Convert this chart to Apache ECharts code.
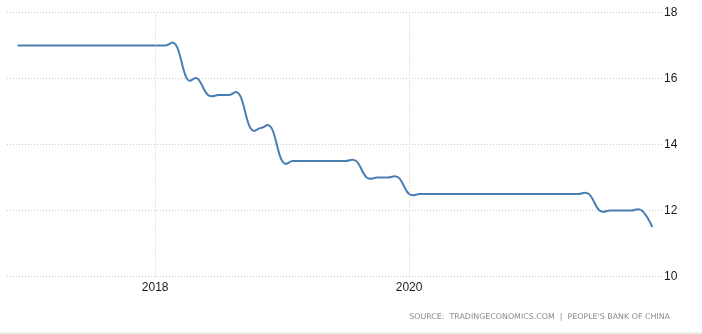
<!DOCTYPE html>
<html>
<head>
<meta charset="utf-8">
<script src="https://cdn.jsdelivr.net/npm/echarts@6/dist/echarts.min.js"></script>
<style>
  html, body { margin: 0; padding: 0; background: #fff; }
  #chart { width: 702px; height: 334px; }
</style>
</head>
<body>
<div id="chart"></div>
<script>
// China reserve requirement ratio (%), monthly, Dec 2016 - Dec 2021
const months = [
  '2016-12',
  '2017-01','2017-02','2017-03','2017-04','2017-05','2017-06',
  '2017-07','2017-08','2017-09','2017-10','2017-11','2017-12',
  '2018-01','2018-02','2018-03','2018-04','2018-05','2018-06',
  '2018-07','2018-08','2018-09','2018-10','2018-11','2018-12',
  '2019-01','2019-02','2019-03','2019-04','2019-05','2019-06',
  '2019-07','2019-08','2019-09','2019-10','2019-11','2019-12',
  '2020-01','2020-02','2020-03','2020-04','2020-05','2020-06',
  '2020-07','2020-08','2020-09','2020-10','2020-11','2020-12',
  '2021-01','2021-02','2021-03','2021-04','2021-05','2021-06',
  '2021-07','2021-08','2021-09','2021-10','2021-11','2021-12'
];
const rrr = [
  17,
  17, 17, 17, 17, 17, 17,
  17, 17, 17, 17, 17, 17,
  17, 17, 17, 16, 16, 15.5,
  15.5, 15.5, 15.5, 14.5, 14.5, 14.5,
  13.5, 13.5, 13.5, 13.5, 13.5, 13.5,
  13.5, 13.5, 13, 13, 13, 13,
  12.5, 12.5, 12.5, 12.5, 12.5, 12.5,
  12.5, 12.5, 12.5, 12.5, 12.5, 12.5,
  12.5, 12.5, 12.5, 12.5, 12.5, 12.5,
  12, 12, 12, 12, 12, 11.5
];
const yearTicks = ['2018', '2020'];
const yTicks = [10, 12, 14, 16, 18];

// month offset from January 2018
function monthOffset(ym) {
  const [y, m] = ym.split('-').map(Number);
  return (y - 2018) * 12 + (m - 1);
}
const yearOffsets = yearTicks.map(y => monthOffset(y + '-01'));
const points = months.map((m, i) => [monthOffset(m), rrr[i]]);

// Spline through the projected points (control points at 1.5:1 weighting,
// tangent kept parallel to the neighbour chord), built as one SVG path.
function splinePath(px) {
  const s = 1.5, d = 2.5;
  const ctrl = px.map((p, i) => {
    const prev = px[i - 1], next = px[i + 1];
    if (!prev || !next) return { l: p, r: p };
    let lx = (s * p[0] + prev[0]) / d, ly = (s * p[1] + prev[1]) / d;
    let rx = (s * p[0] + next[0]) / d, ry = (s * p[1] + next[1]) / d;
    if (rx !== lx) {
      const c = ((ry - ly) * (rx - p[0])) / (rx - lx) + p[1] - ry;
      ly += c; ry += c;
    }
    return { l: [lx, ly], r: [rx, ry] };
  });
  let path = 'M' + px[0][0] + ' ' + px[0][1];
  for (let i = 1; i < px.length; i++) {
    const a = ctrl[i - 1].r, b = ctrl[i].l, p = px[i];
    path += ' C' + a[0] + ' ' + a[1] + ' ' + b[0] + ' ' + b[1] + ' ' + p[0] + ' ' + p[1];
  }
  return path;
}

const chart = echarts.init(document.getElementById('chart'), null, { renderer: 'canvas' });
const gridColor = '#c9c9c9';
chart.setOption({
  animation: false,
  backgroundColor: '#ffffff',
  grid: { left: 7, right: 39, top: 12.5, bottom: 57.5, containLabel: false },
  xAxis: {
    type: 'value',
    min: monthOffset('2016-11'),
    max: monthOffset('2022-01'),
    axisLine: { show: false },
    axisTick: { show: false },
    splitLine: { show: false },
    axisLabel: {
      customValues: yearOffsets,
      formatter: v => String(2018 + Math.round(v / 12)),
      color: '#1a1a1a',
      fontSize: 12,
      fontFamily: 'Liberation Sans, Arial, sans-serif',
      margin: 5
    }
  },
  yAxis: {
    type: 'value',
    position: 'right',
    min: yTicks[0],
    max: yTicks[yTicks.length - 1],
    interval: 2,
    axisLine: { show: false },
    axisTick: { show: false },
    axisLabel: {
      color: '#1a1a1a',
      fontSize: 12,
      fontFamily: 'Liberation Sans, Arial, sans-serif',
      margin: 1
    },
    splitLine: { lineStyle: { color: gridColor, type: [1, 2], width: 1 } }
  },
  series: [
    {
      type: 'line',
      data: [],
      silent: true,
      markLine: {
        silent: true,
        symbol: 'none',
        label: { show: false },
        lineStyle: { color: gridColor, type: [1, 2], width: 1 },
        data: yearOffsets.map(x => ({ xAxis: x }))
      }
    },
    {
      type: 'custom',
      name: 'Reserve Requirement Ratio',
      data: points,
      encode: { x: 0, y: 1 },
      clip: false,
      z: 3,
      renderItem: function (params, api) {
        if (params.dataIndex !== 0) return null;
        const px = points.map(p => api.coord(p));
        return {
          type: 'path',
          shape: { pathData: splinePath(px) },
          style: { fill: 'none', stroke: '#4a7eb3', lineWidth: 2, lineJoin: 'round' }
        };
      }
    }
  ],
  graphic: [
    {
      type: 'text',
      right: 32,
      top: 313,
      style: {
        text: 'SOURCE:  TRADINGECONOMICS.COM  |  PEOPLE\'S BANK OF CHINA',
        fill: '#8a8a8a',
        font: '7.9px "DejaVu Sans", sans-serif'
      }
    },
    {
      type: 'rect',
      left: 0,
      top: 332,
      shape: { width: 702, height: 2 },
      style: { fill: '#ececec' }
    }
  ]
});
</script>
</body>
</html>
